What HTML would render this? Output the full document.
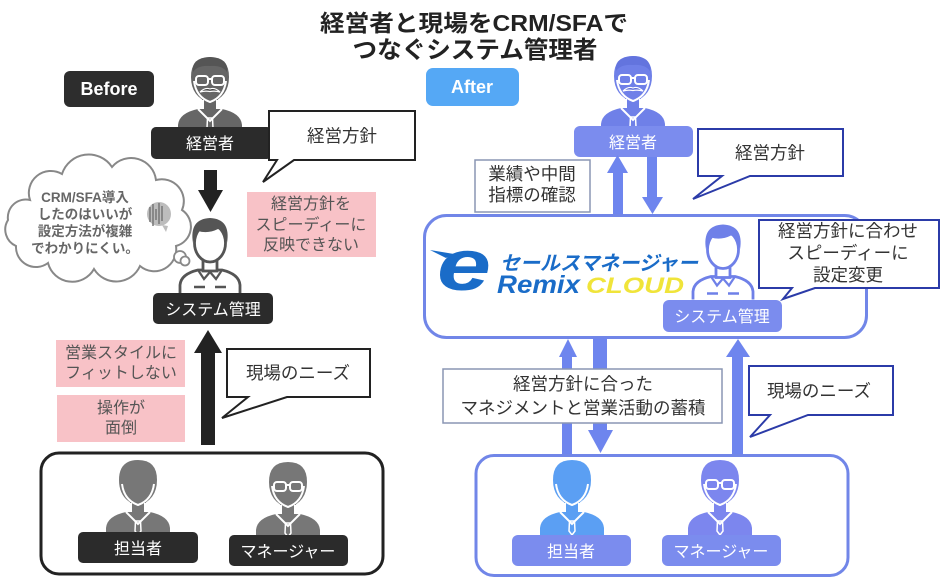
<!DOCTYPE html>
<html><head><meta charset="utf-8"><style>
html,body{margin:0;padding:0;background:#fff;}
svg{display:block;}
text{font-family:"Liberation Sans","Noto Sans CJK JP",sans-serif;}
</style></head><body>
<svg width="940" height="579" viewBox="0 0 940 579" xmlns="http://www.w3.org/2000/svg">
<defs>
<symbol id="pf" viewBox="0 0 64 76" overflow="visible">
<path d="M0 76 V68 Q1 56 20 52 H44 Q63 56 64 68 V76Z"/>
<rect x="24" y="34" width="16" height="20"/>
<path d="M13 20 Q13 0 32 0 Q51 0 51 20 Q51 40 32 46 Q13 40 13 20Z"/>
<path d="M16 24 Q18 40 32 45 Q46 40 48 24" fill="none" stroke="#fff" stroke-width="2"/>
<path d="M25 43 V52 M39 43 V52" fill="none" stroke="#fff" stroke-width="2"/>
<path d="M20 52 L32 64 L44 52" fill="none" stroke="#fff" stroke-width="2"/>
<path d="M29.5 61 L34.5 61 L35 71 L32 75 L29 71Z" fill="none" stroke="#fff" stroke-width="1.5"/>
</symbol>
<symbol id="po" viewBox="0 0 64 76" overflow="visible">
<path d="M2 76 V68 Q3 57 20 53 H44 Q61 57 62 68 V76" fill="#fff" stroke="currentColor" stroke-width="2.8"/>
<rect x="25" y="38" width="14" height="16" fill="#fff" stroke="currentColor" stroke-width="2.8"/>
<ellipse cx="32" cy="26" rx="15.5" ry="19" fill="#fff" stroke="currentColor" stroke-width="2.8"/>
<path d="M15 26 Q11 2 32 1 Q53 2 49 26 Q47 14 40 12 Q30 17 20 14 Q16 18 15 26Z" fill="currentColor"/>
<path d="M20 53 L26 62 L32 55 L38 62 L44 53" fill="none" stroke="currentColor" stroke-width="2.2"/>
<path d="M16 70 H27 M37 70 H48" stroke="currentColor" stroke-width="2.5"/>
</symbol>
</defs>
<rect width="940" height="579" fill="#fff"/>

<!-- Title -->
<text x="474" y="31" font-size="23" font-weight="bold" fill="#222" text-anchor="middle" textLength="308" lengthAdjust="spacingAndGlyphs">経営者と現場をCRM/SFAで</text>
<text x="475" y="58" font-size="24" font-weight="bold" fill="#222" text-anchor="middle" textLength="245" lengthAdjust="spacingAndGlyphs">つなぐシステム管理者</text>

<!-- Badges -->
<rect x="64" y="71" width="90" height="36" rx="6" fill="#2d2d2d"/>
<text x="109" y="95" font-size="18" font-weight="bold" fill="#fff" text-anchor="middle">Before</text>
<rect x="426" y="68" width="93" height="38" rx="7" fill="#55a8f5"/>
<text x="472" y="93" font-size="18" font-weight="bold" fill="#fff" text-anchor="middle">After</text>

<!-- ===== LEFT ===== -->
<g transform="translate(178,57)" fill="#666">
<use href="#pf" width="64" height="76"/>
<path d="M15 15 Q13 1 32 0 Q51 1 49 15 Q44 8 32 9 Q20 8 15 15Z" fill="#555"/>
<rect x="18" y="19" width="12" height="9" rx="3" fill="none" stroke="#fff" stroke-width="2"/>
<rect x="34" y="19" width="12" height="9" rx="3" fill="none" stroke="#fff" stroke-width="2"/>
<path d="M30 22 H34" stroke="#fff" stroke-width="2"/>
<path d="M22 35 Q27 30 32 32 Q37 30 42 35 Q37 33.5 32 34.5 Q27 33.5 22 35Z" fill="#444" stroke="#fff" stroke-width="1.2"/>
</g>
<rect x="151" y="127" width="121" height="32" rx="5" fill="#2b2b2b"/>
<text x="210" y="149" font-size="16" fill="#fff" text-anchor="middle">経営者</text>

<polygon points="269,111 415,111 415,160 294,160 263,182 277,160 269,160" fill="#fff" stroke="#222" stroke-width="2"/>
<text x="342" y="142" font-size="17.5" fill="#333" text-anchor="middle">経営方針</text>

<rect x="204" y="170" width="13" height="22" fill="#222"/>
<polygon points="198,190 223,190 210.5,212" fill="#222"/>

<rect x="247" y="192" width="129" height="65" fill="#f8c2c7"/>
<text x="311" y="209" font-size="16" fill="#555" text-anchor="middle">経営方針を</text>
<text x="311" y="230" font-size="16" fill="#555" text-anchor="middle">スピーディーに</text>
<text x="311" y="250" font-size="16" fill="#555" text-anchor="middle">反映できない</text>

<!-- cloud -->
<path d="M30 200 A22 22 0 0 1 62 174 A28 28 0 0 1 112 167 A25 25 0 0 1 156 180 A22 22 0 0 1 182 210 A20 20 0 0 1 176 246 A22 22 0 0 1 140 266 A26 26 0 0 1 94 269 A25 25 0 0 1 48 263 A20 20 0 0 1 16 246 A18 18 0 0 1 8 220 A18 18 0 0 1 30 200Z" fill="#fff" stroke="#888" stroke-width="2"/>
<circle cx="180" cy="257" r="6" fill="#fff" stroke="#888" stroke-width="1.8"/>
<circle cx="185" cy="261" r="4.5" fill="#fff" stroke="#888" stroke-width="1.8"/>
<circle cx="159" cy="214" r="12" fill="#bdbdbd"/>
<path d="M150 207 V222 M153 204 V226 M156 209 V220 M159 203 V224 M162 206 V221" stroke="#777" stroke-width="1.5"/>
<path d="M162 225 L166 232 L168 226Z" fill="#bdbdbd"/>
<text x="85" y="202" font-size="13.5" font-weight="bold" fill="#666" text-anchor="middle">CRM/SFA導入</text>
<text x="85" y="219" font-size="13.5" font-weight="bold" fill="#666" text-anchor="middle">したのはいいが</text>
<text x="85" y="236" font-size="13.5" font-weight="bold" fill="#666" text-anchor="middle">設定方法が複雑</text>
<text x="85" y="253" font-size="13.5" font-weight="bold" fill="#666" text-anchor="middle">でわかりにくい。</text>

<g transform="translate(178,216)" color="#555">
<use href="#po" width="64" height="78"/>
</g>
<rect x="153" y="293" width="120" height="31" rx="5" fill="#2b2b2b"/>
<text x="213" y="315" font-size="16" fill="#fff" text-anchor="middle">システム管理</text>

<rect x="201" y="350" width="14" height="95" fill="#222"/>
<polygon points="194,353 222,353 208,330" fill="#222"/>

<rect x="56" y="340" width="129" height="47" fill="#f8c2c7"/>
<text x="121" y="358" font-size="16" fill="#555" text-anchor="middle">営業スタイルに</text>
<text x="121" y="378" font-size="16" fill="#555" text-anchor="middle">フィットしない</text>
<rect x="57" y="395" width="128" height="47" fill="#f8c2c7"/>
<text x="121" y="413" font-size="16" fill="#555" text-anchor="middle">操作が</text>
<text x="121" y="433" font-size="16" fill="#555" text-anchor="middle">面倒</text>

<polygon points="227,349 370,349 370,397 287,397 222,418 248,397 227,397" fill="#fff" stroke="#222" stroke-width="2"/>
<text x="298" y="379" font-size="17.5" fill="#333" text-anchor="middle">現場のニーズ</text>

<rect x="41" y="453" width="342" height="121" rx="18" fill="#fff" stroke="#222" stroke-width="3"/>
<g transform="translate(106,460)" fill="#777"><use href="#pf" width="64" height="76"/></g>
<g transform="translate(256,462)" fill="#777"><use href="#pf" width="64" height="76"/>
<rect x="18" y="20" width="12" height="9" rx="3" fill="none" stroke="#fff" stroke-width="2"/>
<rect x="34" y="20" width="12" height="9" rx="3" fill="none" stroke="#fff" stroke-width="2"/>
<path d="M30 23 H34" stroke="#fff" stroke-width="2"/></g>
<rect x="78" y="532" width="120" height="31" rx="5" fill="#2b2b2b"/>
<text x="138" y="554" font-size="16" fill="#fff" text-anchor="middle">担当者</text>
<rect x="229" y="535" width="119" height="31" rx="5" fill="#2b2b2b"/>
<text x="288" y="557" font-size="16" fill="#fff" text-anchor="middle">マネージャー</text>

<!-- ===== RIGHT ===== -->
<g transform="translate(601,56)" fill="#6f80e8">
<use href="#pf" width="64" height="76"/>
<path d="M15 15 Q13 1 32 0 Q51 1 49 15 Q44 8 32 9 Q20 8 15 15Z" fill="#6374de"/>
<rect x="18" y="19" width="12" height="9" rx="3" fill="none" stroke="#fff" stroke-width="2"/>
<rect x="34" y="19" width="12" height="9" rx="3" fill="none" stroke="#fff" stroke-width="2"/>
<path d="M30 22 H34" stroke="#fff" stroke-width="2"/>
<path d="M22 35 Q27 30 32 32 Q37 30 42 35 Q37 33.5 32 34.5 Q27 33.5 22 35Z" fill="#5a6bd8" stroke="#fff" stroke-width="1.2"/>
</g>
<rect x="574" y="126" width="119" height="31" rx="6" fill="#7b8cee"/>
<text x="633" y="148" font-size="16" fill="#fff" text-anchor="middle">経営者</text>

<rect x="613" y="171" width="10" height="46" fill="#6e85ee"/>
<polygon points="607,173 628,173 617.5,155" fill="#6e85ee"/>
<rect x="647" y="157" width="10" height="42" fill="#6e85ee"/>
<polygon points="642,197 663,197 652.5,214" fill="#6e85ee"/>

<rect x="475" y="160" width="115" height="52" fill="#fff" stroke="#8a96b4" stroke-width="1.5"/>
<text x="532" y="180" font-size="17.5" fill="#333" text-anchor="middle">業績や中間</text>
<text x="532" y="201" font-size="17.5" fill="#333" text-anchor="middle">指標の確認</text>

<polygon points="698,129 843,129 843,176 750,176 693,199 722,176 698,176" fill="#fff" stroke="#2b3ba8" stroke-width="2"/>
<text x="770" y="159" font-size="17.5" fill="#333" text-anchor="middle">経営方針</text>

<rect x="424.5" y="215.5" width="442" height="122" rx="22" fill="#fff" stroke="#7186e8" stroke-width="3"/>

<!-- logo -->
<text x="437" y="290" font-size="72" font-weight="bold" font-style="italic" fill="#1a6cc8" textLength="54" lengthAdjust="spacingAndGlyphs">e</text>
<path d="M446 258 L430 250 L454 254Z" fill="#1a6cc8"/>
<g transform="translate(500,270) skewX(-14)">
<text x="0" y="0" font-size="20" font-weight="bold" fill="#1a6cc8" textLength="198" lengthAdjust="spacingAndGlyphs">セールスマネージャー</text>
</g>
<text x="497" y="293" font-size="25" font-weight="bold" font-style="italic" fill="#1a6cc8" textLength="83" lengthAdjust="spacingAndGlyphs">Remix</text>
<text x="586" y="293" font-size="22" font-weight="bold" font-style="italic" fill="#f0e43a" textLength="98" lengthAdjust="spacingAndGlyphs">CLOUD</text>

<g transform="translate(691,223)" color="#6f80e8">
<use href="#po" width="64" height="77"/>
</g>
<rect x="663" y="300" width="119" height="32" rx="6" fill="#7b8cee"/>
<text x="722" y="322" font-size="16" fill="#fff" text-anchor="middle">システム管理</text>

<polygon points="759,220 939,220 939,288 815,288 783,299 792,288 759,288" fill="#fff" stroke="#2b3ba8" stroke-width="2"/>
<text x="848" y="237" font-size="17.5" fill="#333" text-anchor="middle">経営方針に合わせ</text>
<text x="848" y="259" font-size="17.5" fill="#333" text-anchor="middle">スピーディーに</text>
<text x="848" y="281" font-size="17.5" fill="#333" text-anchor="middle">設定変更</text>

<rect x="562" y="355" width="10" height="101" fill="#6e85ee"/>
<polygon points="559,357 577,357 568,339" fill="#6e85ee"/>
<rect x="593" y="338" width="14" height="94" fill="#6e85ee"/>
<polygon points="588,430 613,430 600.5,453" fill="#6e85ee"/>
<rect x="732" y="355" width="11" height="101" fill="#6e85ee"/>
<polygon points="726,357 750,357 738,339" fill="#6e85ee"/>

<rect x="443" y="369" width="279" height="54" fill="#fff" stroke="#8a96b4" stroke-width="1.5"/>
<text x="583" y="390" font-size="17.5" fill="#333" text-anchor="middle">経営方針に合った</text>
<text x="583" y="414" font-size="17.5" fill="#333" text-anchor="middle">マネジメントと営業活動の蓄積</text>

<polygon points="749,366 893,366 893,415 808,415 750,437 770,415 749,415" fill="#fff" stroke="#2b3ba8" stroke-width="2"/>
<text x="819" y="397" font-size="17.5" fill="#333" text-anchor="middle">現場のニーズ</text>

<rect x="476" y="455.5" width="372" height="120" rx="18" fill="#fff" stroke="#7186e8" stroke-width="3"/>
<g transform="translate(540,460)" fill="#5b9ff3"><use href="#pf" width="64" height="76"/></g>
<g transform="translate(688,460)" fill="#7c86ee"><use href="#pf" width="64" height="76"/>
<rect x="18" y="20" width="12" height="9" rx="3" fill="none" stroke="#fff" stroke-width="2"/>
<rect x="34" y="20" width="12" height="9" rx="3" fill="none" stroke="#fff" stroke-width="2"/>
<path d="M30 23 H34" stroke="#fff" stroke-width="2"/></g>
<rect x="512" y="535" width="119" height="31" rx="6" fill="#7b8cee"/>
<text x="571" y="557" font-size="16" fill="#fff" text-anchor="middle">担当者</text>
<rect x="662" y="535" width="119" height="31" rx="6" fill="#7b8cee"/>
<text x="721" y="557" font-size="16" fill="#fff" text-anchor="middle">マネージャー</text>
</svg>
</body></html>
